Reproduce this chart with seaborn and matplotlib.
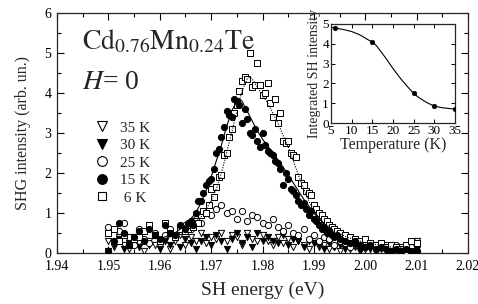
import numpy as np
import pandas as pd
import matplotlib
matplotlib.use('Agg')
import matplotlib.pyplot as plt
import seaborn as sns
from matplotlib.lines import Line2D
from matplotlib.ticker import MultipleLocator

# ---------------- data ----------------
E_grid = [1.950, 1.951, 1.952, 1.953, 1.954, 1.955, 1.956, 1.957, 1.958, 1.959,
          1.960, 1.961, 1.962, 1.963, 1.964, 1.965, 1.966, 1.967, 1.968, 1.969,
          1.970, 1.971, 1.972, 1.973, 1.974, 1.975, 1.976, 1.977, 1.978, 1.979,
          1.980, 1.981, 1.982, 1.983, 1.984, 1.985, 1.986, 1.987, 1.988, 1.989,
          1.990, 1.991, 1.992, 1.993, 1.994, 1.995, 1.996, 1.997, 1.998, 1.999,
          2.000, 2.001, 2.002, 2.003, 2.004, 2.005, 2.006, 2.007, 2.008, 2.009,
          2.010]

E_peak = [1.9650, 1.9655, 1.9660, 1.9665, 1.9670, 1.9675, 1.9680, 1.9685, 1.9690, 1.9695,
          1.9700, 1.9705, 1.9710, 1.9715, 1.9720, 1.9725, 1.9730, 1.9735, 1.9740, 1.9745,
          1.9750, 1.9755, 1.9760, 1.9765, 1.9770, 1.9775, 1.9780, 1.9785, 1.9790, 1.9795,
          1.9800, 1.9805, 1.9810, 1.9815, 1.9820, 1.9825, 1.9830, 1.9835, 1.9840, 1.9845,
          1.9850, 1.9855, 1.9860, 1.9865, 1.9870, 1.9875, 1.9880, 1.9885, 1.9890, 1.9895,
          1.9900, 1.9905, 1.9910, 1.9915, 1.9920, 1.9925, 1.9930, 1.9935, 1.9940, 1.9945,
          1.9950]

E_dense = E_grid[:15] + E_peak + E_grid[46:]

I_35K = [0.3, 0.15, 0.4, 0.2, 0.1, 0.35, 0.25, 0.05, 0.3, 0.2,
         0.15, 0.35, 0.1, 0.3, 0.45, 0.2, 0.4, 0.3, 0.5, 0.25,
         0.4, 0.35, 0.5, 0.3, 0.45, 0.4, 0.2, 0.5, 0.35, 0.3,
         0.45, 0.3, 0.2, 0.4, 0.25, 0.35, 0.15, 0.3, 0.2, 0.1,
         0.25, 0.15, 0.2, 0.1, 0.15, 0.05, 0.2, 0.1, 0.15, 0.05,
         0.1, 0.15, 0.05, 0.1, 0.2, 0.05, 0.1, 0.15, 0.05, 0.2,
         0.3]

I_30K = [0.05, 0.2, 0.35, 0.1, 0.25, 0.4, 0.15, 0.3, 0.2, 0.45,
         0.1, 0.3, 0.2, 0.4, 0.15, 0.35, 0.25, 0.1, 0.3, 0.4,
         0.2, 0.45, 0.3, 0.1, 0.35, 0.5, 0.25, 0.4, 0.15, 0.5,
         0.3, 0.4, 0.3, 0.25, 0.45, 0.2, 0.35, 0.3, 0.15, 0.3,
         0.25, 0.2, 0.1, 0.25, 0.15, 0.2, 0.1, 0.15, 0.2, 0.05,
         0.15, 0.1, 0.2, 0.15, 0.05, 0.1, 0.15, 0.05, 0.1, 0.05,
         0.1]

I_25K = [0.65, 0.3, 0.55, 0.75, 0.4, 0.2, 0.6, 0.35, 0.25, 0.5,
         0.3, 0.45, 0.6, 0.4, 0.55, 0.7, 0.6, 0.85, 0.75, 1.0,
         0.95, 1.1, 1.2, 1.0, 1.05, 0.85, 1.05, 0.8, 0.95, 0.9,
         0.75, 0.7, 0.85, 0.65, 0.55, 0.7, 0.5, 0.45, 0.6, 0.35,
         0.45, 0.3, 0.4, 0.35, 0.2, 0.3, 0.25, 0.15, 0.3, 0.2,
         0.15, 0.25, 0.1, 0.2, 0.15, 0.1, 0.2, 0.1, 0.05, 0.15,
         0.25]

I_15K = [0.05, 0.3, 0.75, 0.5, 0.2, 0.4, 0.55, 0.3, 0.6, 0.45,
         0.35, 0.7, 0.5, 0.45, 0.7,
         0.6, 0.75, 0.8, 0.7, 1.0, 1.3, 1.3, 1.5, 1.7, 1.8,
         1.85, 2.1, 2.5, 2.6, 2.9, 3.15, 3.55, 3.45, 3.4, 3.85,
         3.8, 3.7, 3.25, 3.6, 3.35, 3.0, 2.95, 3.1, 2.8, 2.65,
         3.0, 2.7, 2.55, 2.5, 2.45, 2.3, 2.25, 2.1, 1.7, 2.0,
         1.85, 1.6, 1.55, 1.45, 1.3, 1.2, 1.25, 1.1, 0.95, 1.05,
         0.85, 0.8, 0.7, 0.6, 0.65, 0.5, 0.55, 0.45, 0.4, 0.45,
         0.35,
         0.3, 0.25, 0.3, 0.2, 0.15, 0.2, 0.1, 0.15, 0.1, 0.05,
         0.1, 0.05, 0.1, 0.05, 0.05]

I_6K = [0.5, 0.6, 0.3, 0.45, 0.2, 0.35, 0.4, 0.55, 0.7, 0.45,
        0.3, 0.75, 0.5, 0.4, 0.6,
        0.55, 0.6, 0.7, 0.65, 0.8, 0.75, 0.95, 1.05, 1.0, 1.2,
        1.6, 1.4, 1.65, 1.9, 1.95, 2.45, 2.5, 2.9, 3.1, 3.5,
        3.7, 4.05, 4.3, 4.4, 4.35, 5.0, 4.15, 4.2, 4.75, 4.2,
        3.95, 4.0, 4.25, 3.75, 3.4, 3.85, 3.25, 3.5, 2.8, 2.75,
        2.8, 2.5, 2.45, 2.4, 1.9, 1.75, 1.7, 1.55, 1.5, 1.45,
        1.2, 1.1, 1.0, 0.95, 0.85, 0.8, 0.7, 0.65, 0.6, 0.55,
        0.5,
        0.45, 0.4, 0.35, 0.3, 0.35, 0.25, 0.2, 0.25, 0.15, 0.2,
        0.15, 0.1, 0.2, 0.3, 0.25]

# fitted curves
E_fit15 = [1.960, 1.963, 1.965, 1.967, 1.968, 1.969, 1.970, 1.971, 1.972, 1.973,
           1.974, 1.975, 1.9755, 1.976, 1.977, 1.978, 1.979, 1.980, 1.982, 1.984,
           1.986, 1.988, 1.990, 1.992, 1.994, 1.996, 1.998, 2.000, 2.004, 2.010]
I_fit15 = [0.35, 0.5, 0.7, 1.0, 1.25, 1.55, 1.9, 2.3, 2.7, 3.15,
           3.55, 3.8, 3.85, 3.8, 3.55, 3.3, 3.05, 2.85, 2.5, 2.15,
           1.75, 1.35, 1.0, 0.72, 0.5, 0.35, 0.25, 0.18, 0.1, 0.05]

E_fit6 = [1.960, 1.965, 1.968, 1.970, 1.971, 1.972, 1.973, 1.974, 1.975, 1.976,
          1.977, 1.9775, 1.978, 1.979, 1.980, 1.981, 1.982, 1.983, 1.984, 1.985,
          1.986, 1.987, 1.988, 1.989, 1.990, 1.992, 1.994, 1.996, 1.998, 2.000,
          2.005, 2.010]
I_fit6 = [0.3, 0.55, 0.9, 1.3, 1.6, 2.0, 2.5, 3.0, 3.55, 4.05,
          4.35, 4.4, 4.35, 4.15, 3.95, 3.75, 3.5, 3.25, 2.95, 2.65,
          2.3, 1.95, 1.6, 1.3, 1.05, 0.75, 0.55, 0.42, 0.33, 0.26,
          0.15, 0.1]

# inset
T_pts = [6, 15, 25, 30, 35]
S_pts = [4.8, 4.1, 1.5, 0.85, 0.7]
T_curve = [5, 6, 8, 10, 12, 14, 15, 16, 18, 20, 22, 24, 25, 26, 28, 30, 32, 35]
S_curve = [4.83, 4.8, 4.72, 4.62, 4.45, 4.2, 4.1, 3.9, 3.35, 2.75, 2.2, 1.72, 1.5, 1.32, 1.05, 0.85, 0.77, 0.7]

labels = ['35 K', '30 K', '25 K', '15 K', ' 6 K']

# ---------------- style ----------------
sns.set_theme(style='ticks')
plt.rcParams['font.family'] = ['Liberation Serif', 'DejaVu Serif']
plt.rcParams['mathtext.fontset'] = 'stix'
plt.rcParams['axes.linewidth'] = 0.9

fig = plt.figure(figsize=(4.78, 3.04), dpi=100)
ax = fig.add_axes([57/478, 51/304, 411/478, 240/304])

ms = 20
ew = 0.7
series = [
    (E_grid, I_35K, 'v', 'white'),
    (E_grid, I_30K, 'v', 'black'),
    (E_grid, I_25K, 'o', 'white'),
    (E_dense, I_6K, 's', 'white'),
    (E_dense, I_15K, 'o', 'black'),
]
for xs, ys, mk, fc in series:
    sns.scatterplot(x=xs, y=ys, marker=mk, s=ms, facecolor=fc, edgecolor='black',
                    linewidth=ew, ax=ax, zorder=3)

sns.lineplot(x=E_fit15, y=I_fit15, color='black', lw=0.8, ax=ax, zorder=4)
sns.lineplot(x=E_fit6, y=I_fit6, color='black', lw=0.8, linestyle=(0, (1.0, 1.3)), ax=ax, zorder=4)

ax.set_xlim(1.94, 2.02)
ax.set_ylim(0, 6)
ax.xaxis.set_major_locator(MultipleLocator(0.01))
ax.xaxis.set_minor_locator(MultipleLocator(0.005))
ax.yaxis.set_major_locator(MultipleLocator(1))
ax.yaxis.set_minor_locator(MultipleLocator(0.5))
ax.set_xticks([1.94, 1.95, 1.96, 1.97, 1.98, 1.99, 2.00, 2.01, 2.02])
ax.set_xticklabels(['1.94', '1.95', '1.96', '1.97', '1.98', '1.99', '2.00', '2.01', '2.02'])
ax.tick_params(which='both', direction='in', top=True, right=True, labelsize=10, colors='black')
ax.tick_params(which='major', length=5, width=0.8)
ax.tick_params(which='minor', length=3, width=0.8)
ax.tick_params(axis='x', which='major', pad=5)
ax.tick_params(axis='y', which='major', pad=4)
ax.set_xlabel('SH energy (eV)', fontsize=14, labelpad=6)
ax.set_ylabel('SHG intensity (arb. un.)', fontsize=11.5, labelpad=10)

ax.text(0.061, 0.88, r'$\mathrm{Cd}_{0.76}\mathrm{Mn}_{0.24}\mathrm{Te}$', transform=ax.transAxes,
        fontsize=20, va='center', ha='left')
ax.text(0.061, 0.71, r'$H$= 0', transform=ax.transAxes, fontsize=20, va='center', ha='left')

handles = [
    Line2D([], [], ls='none', marker='v', ms=7, mfc='white', mec='black', mew=0.8),
    Line2D([], [], ls='none', marker='v', ms=7, mfc='black', mec='black', mew=0.8),
    Line2D([], [], ls='none', marker='o', ms=7, mfc='white', mec='black', mew=0.8),
    Line2D([], [], ls='none', marker='o', ms=7, mfc='black', mec='black', mew=0.8),
    Line2D([], [], ls='none', marker='s', ms=6, mfc='white', mec='black', mew=0.8),
]
ax.legend(handles, labels, loc='upper left', bbox_to_anchor=(0.09, 0.55), frameon=False,
          fontsize=11, handlelength=1.0, handletextpad=0.7, labelspacing=0.25,
          borderaxespad=0, borderpad=0)

# inset
ax2 = fig.add_axes([331/478, (304-123)/304, 124/478, 99/304])
sns.lineplot(x=T_curve, y=S_curve, color='black', lw=0.8, ax=ax2)
sns.scatterplot(x=T_pts, y=S_pts, color='black', s=12, edgecolor='black', ax=ax2, zorder=3)
ax2.set_xlim(5, 35)
ax2.set_ylim(0, 5)
ax2.xaxis.set_major_locator(MultipleLocator(5))
ax2.yaxis.set_major_locator(MultipleLocator(1))
ax2.tick_params(which='both', direction='in', top=True, right=True, labelsize=9.5,
                length=3, width=0.7, pad=1.5, colors='black')
ax2.set_xlabel('Temperature (K)', fontsize=11.5, labelpad=0)
ax2.set_ylabel('Integrated SH intensity', fontsize=10, labelpad=1)

fig.savefig('out.png', dpi=100)
